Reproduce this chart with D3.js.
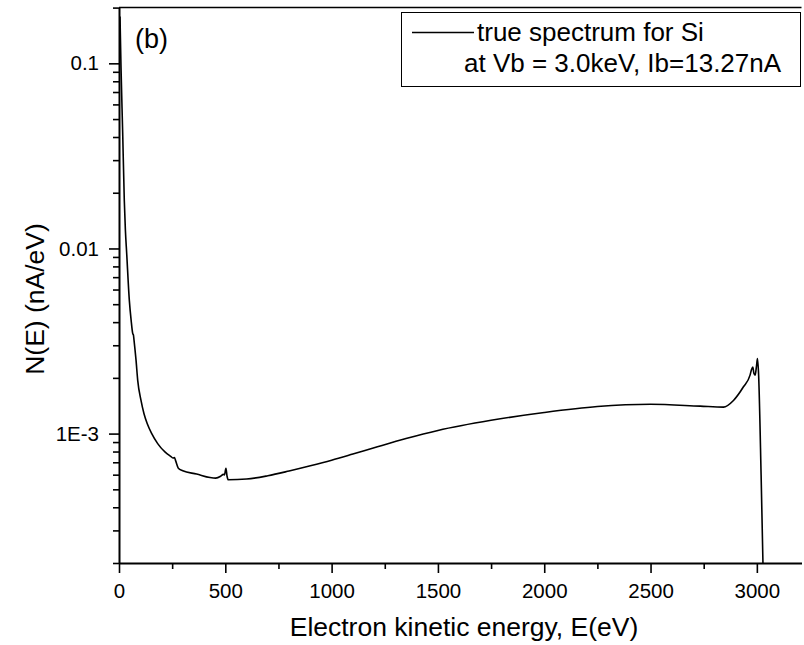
<!DOCTYPE html>
<html>
<head>
<meta charset="utf-8">
<script src="https://cdn.jsdelivr.net/npm/d3@7"></script>
<style>
  html, body { margin: 0; padding: 0; background: #fff; }
  svg { display: block; }
  text { font-family: "Liberation Sans", Arial, sans-serif; fill: #000; }
</style>
</head>
<body>
<svg id="chart" width="804" height="645"></svg>
<script>
// Electron energy spectrum N(E) for Si, beam 3.0 keV
const energy = [4.7, 9.4, 17.4, 24.9, 30, 36.2, 48.5, 57, 64.4, 68, 70.6, 80, 88, 103.5, 117.6, 133,
  154, 182, 216, 243, 255, 261, 267, 279, 300, 365, 428, 455, 478, 491, 496, 503, 508, 514,
  600, 700, 800, 900, 1000, 1100, 1200, 1350, 1500, 1750, 2000, 2250, 2500, 2733, 2843, 2890,
  2937, 2968, 2975, 2981, 2986, 2992, 2998, 3003, 3008, 3020, 3031];
const nE = [0.179, 0.0959, 0.0418, 0.0182, 0.0126, 0.0094, 0.00526, 0.0041, 0.00348, 0.0034, 0.0032,
  0.0025, 0.00194, 0.00151, 0.00128, 0.00113,
  0.001, 0.000883, 0.000796, 0.000754, 0.000738, 0.000742, 0.00071, 0.00065, 0.00063, 0.000605,
  0.000579, 0.000575, 0.000588, 0.000602, 0.000598, 0.00065, 0.00059, 0.000563,
  0.000568, 0.000592, 0.000628, 0.00067, 0.000718, 0.000775, 0.000838, 0.00094, 0.00104,
  0.00118, 0.0013, 0.0014, 0.00144, 0.001407, 0.00139, 0.00151, 0.00179, 0.00207, 0.00222,
  0.00229, 0.00212, 0.00207, 0.0023, 0.00254, 0.00211, 0.0006, 0.00015];

const xMajorTicks = [0, 500, 1000, 1500, 2000, 2500, 3000];
const xMinorTicks = [250, 750, 1250, 1750, 2250, 2750];
const yMajorTicks = [0.1, 0.01, 0.001];
const yMajorLabels = ["0.1", "0.01", "1E-3"];
const yMinorTicks = [0.2, 0.09, 0.08, 0.07, 0.06, 0.05, 0.04, 0.03, 0.02,
  0.009, 0.008, 0.007, 0.006, 0.005, 0.004, 0.003, 0.002,
  0.0009, 0.0008, 0.0007, 0.0006, 0.0005, 0.0004, 0.0003, 0.0002];

const legendLines = ["true spectrum for Si", "at Vb = 3.0keV, Ib=13.27nA"];
const panelLabel = "(b)";
const xTitle = "Electron kinetic energy, E(eV)";
const yTitle = "N(E) (nA/eV)";

const svg = d3.select("#chart");
const plot = { left: 119, right: 801.5, top: 7.6, bottom: 563 };

const x = d3.scaleLinear().domain([0, 3210]).range([plot.left, plot.right]);
const y = d3.scaleLog().domain([2e-4, 0.2]).range([plot.bottom, plot.top]);

svg.append("defs").append("clipPath").attr("id", "plotClip")
  .append("rect").attr("x", plot.left).attr("y", plot.top)
  .attr("width", plot.right - plot.left).attr("height", plot.bottom - plot.top);

// spectrum curve
const pts = energy.map((e, i) => [e, nE[i]]);
svg.append("path")
  .datum(pts)
  .attr("clip-path", "url(#plotClip)")
  .attr("fill", "none")
  .attr("stroke", "#000")
  .attr("stroke-width", 1.6)
  .attr("stroke-linejoin", "round")
  .attr("d", d3.line().x(d => x(d[0])).y(d => y(d[1])).curve(d3.curveMonotoneX));

// top frame line
svg.append("line")
  .attr("x1", plot.left).attr("x2", plot.right).attr("y1", plot.top).attr("y2", plot.top)
  .attr("stroke", "#000").attr("stroke-width", 1.5);

// x axis
const gx = svg.append("g").attr("transform", `translate(0,${plot.bottom})`);
gx.call(d3.axisBottom(x).tickValues(xMinorTicks).tickSize(6).tickSizeOuter(0).tickFormat(""));
gx.call(g => g.select(".domain").remove());
const gx2 = svg.append("g").attr("transform", `translate(0,${plot.bottom})`);
gx2.call(d3.axisBottom(x).tickValues(xMajorTicks).tickSize(10).tickSizeOuter(0)
  .tickPadding(10).tickFormat(d3.format("d")));

// y axis
const gy = svg.append("g").attr("transform", `translate(${plot.left},0)`);
gy.call(d3.axisLeft(y).tickValues(yMinorTicks).tickSize(6).tickSizeOuter(0).tickFormat(""));
gy.call(g => g.select(".domain").remove());
const gy2 = svg.append("g").attr("transform", `translate(${plot.left},0)`);
gy2.call(d3.axisLeft(y).tickValues(yMajorTicks).tickSize(10).tickSizeOuter(0)
  .tickPadding(10).tickFormat((d, i) => yMajorLabels[i]));

svg.selectAll(".tick line").attr("stroke", "#000").attr("stroke-width", 1.6);
svg.selectAll(".domain").attr("stroke", "#000").attr("stroke-width", 2);
svg.selectAll(".tick text").attr("font-size", 20.5).attr("fill", "#000");

// axis titles
svg.append("text")
  .attr("x", 464).attr("y", 636)
  .attr("text-anchor", "middle").attr("font-size", 26.5)
  .text(xTitle);
svg.append("text")
  .attr("transform", "translate(44,299) rotate(-90)")
  .attr("text-anchor", "middle").attr("font-size", 26.5)
  .text(yTitle);

// panel label
svg.append("text").attr("x", 135).attr("y", 48).attr("font-size", 27).text(panelLabel);

// legend
const lg = svg.append("g");
lg.append("rect").attr("x", 401.5).attr("y", 12.5).attr("width", 399).attr("height", 74)
  .attr("fill", "#fff").attr("stroke", "#000").attr("stroke-width", 1);
lg.append("line").attr("x1", 412).attr("x2", 474).attr("y1", 32.5).attr("y2", 32.5)
  .attr("stroke", "#000").attr("stroke-width", 1.6);
lg.append("text").attr("x", 477).attr("y", 41).attr("font-size", 26).text(legendLines[0]);
lg.append("text").attr("x", 464).attr("y", 72).attr("font-size", 26).text(legendLines[1]);
</script>
</body>
</html>
